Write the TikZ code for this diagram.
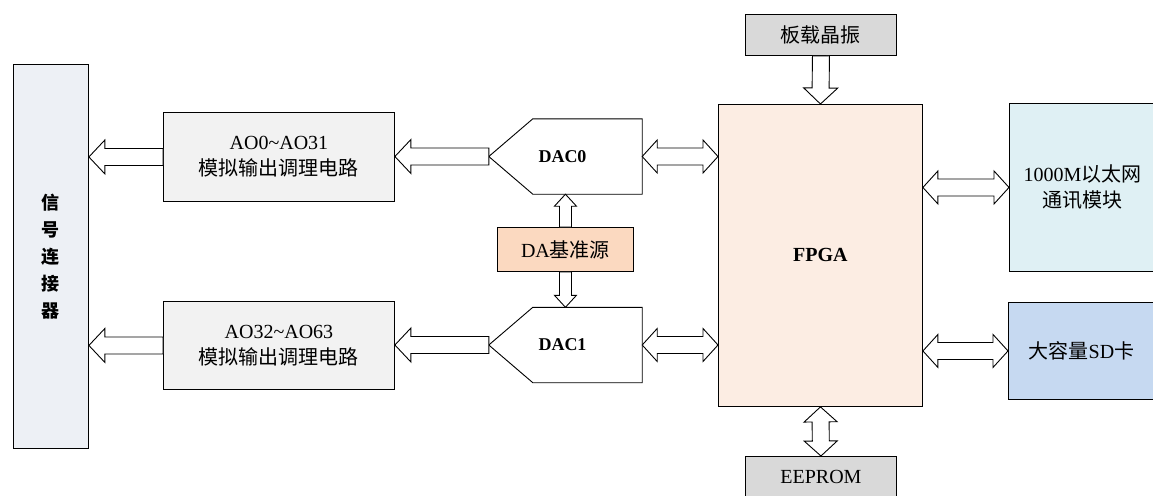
\documentclass[tikz,border=0pt]{standalone}
\usepackage{fontspec}
\setmainfont{Liberation Serif}
\newfontfamily\cjk{Noto Sans CJK SC}
\usetikzlibrary{calc}
\pgfdeclarelayer{background}
\pgfsetlayers{background,main}
\definecolor{connfill}{HTML}{EDF0F5}
\definecolor{aofill}{HTML}{F2F2F2}
\definecolor{reffill}{HTML}{FBD9C0}
\definecolor{fpgafill}{HTML}{FCEDE3}
\definecolor{chipfill}{HTML}{D9D9D9}
\definecolor{ethfill}{HTML}{DFF0F4}
\definecolor{sdfill}{HTML}{C6D9F1}
\begin{document}
\begin{tikzpicture}[x=1pt, y=-1pt, font=\fontsize{20}{26}\selectfont,
  box/.style={draw, line width=0.9pt, anchor=north west, inner sep=0pt, align=center},
  dac/.style={minimum width=153, minimum height=75, inner sep=0pt, font=\bfseries\fontsize{18}{22}\selectfont},
  shaftw/.code={\def\fw{#1}}, headw/.code={\def\fh{#1}}, headl/.code={\def\fl{#1}},
  barrow/.style={draw, fill=white, line width=0.9pt, line join=miter, shaftw=8.5pt, headw=17pt, headl=16pt,
    to path={-- ($(\tikztostart)!\fw!90:(\tikztotarget)$)
      -- ($($(\tikztotarget)!\fl!(\tikztostart)$)!\fw!90:(\tikztotarget)$)
      -- ($($(\tikztotarget)!\fl!(\tikztostart)$)!\fh!90:(\tikztotarget)$)
      -- (\tikztotarget)
      -- ($($(\tikztotarget)!\fl!(\tikztostart)$)!\fh!-90:(\tikztotarget)$)
      -- ($($(\tikztotarget)!\fl!(\tikztostart)$)!\fw!-90:(\tikztotarget)$)
      -- ($(\tikztostart)!\fw!-90:(\tikztotarget)$)
      -- cycle}},
  dbarrow/.style={draw, fill=white, line width=0.9pt, line join=miter, shaftw=8.5pt, headw=16.5pt, headl=15pt,
    to path={-- ($($(\tikztostart)!\fl!(\tikztotarget)$)!\fh!90:(\tikztotarget)$)
      -- ($($(\tikztostart)!\fl!(\tikztotarget)$)!\fw!90:(\tikztotarget)$)
      -- ($($(\tikztotarget)!\fl!(\tikztostart)$)!\fw!90:(\tikztotarget)$)
      -- ($($(\tikztotarget)!\fl!(\tikztostart)$)!\fh!90:(\tikztotarget)$)
      -- (\tikztotarget)
      -- ($($(\tikztotarget)!\fl!(\tikztostart)$)!\fh!-90:(\tikztotarget)$)
      -- ($($(\tikztotarget)!\fl!(\tikztostart)$)!\fw!-90:(\tikztotarget)$)
      -- ($($(\tikztostart)!\fl!(\tikztotarget)$)!\fw!-90:(\tikztotarget)$)
      -- ($($(\tikztostart)!\fl!(\tikztotarget)$)!\fh!-90:(\tikztotarget)$)
      -- cycle}}]
\useasboundingbox (0,0) rectangle (1153,495);
\clip (0,0) rectangle (1153,495);
\node[box, fill=connfill, minimum width=75, minimum height=384, font=\cjk\bfseries\fontsize{18}{27}\selectfont] (conn) at (13,64) {信\\号\\连\\接\\器};
\node[box, fill=aofill, minimum width=231, minimum height=89] (ao0) at (163,112) {AO0\textasciitilde AO31\\{\cjk 模拟输出调理电路}};
\node[box, fill=aofill, minimum width=231, minimum height=88] (ao1) at (163,301) {AO32\textasciitilde AO63\\{\cjk 模拟输出调理电路}};
\node[dac] (dac0) at (565.5,156.5) {\hspace*{-6pt}DAC0};
\node[dac] (dac1) at (565.5,345) {\hspace*{-6pt}DAC1};
\begin{pgfonlayer}{background}
\filldraw[fill=white, line width=0.9pt] (dac0.north east) -- (dac0.south east) -- ([xshift=44]dac0.south west) -- (dac0.west) -- ([xshift=44]dac0.north west) -- cycle;
\filldraw[fill=white, line width=0.9pt] (dac1.north east) -- (dac1.south east) -- ([xshift=44]dac1.south west) -- (dac1.west) -- ([xshift=44]dac1.north west) -- cycle;
\end{pgfonlayer}
\node[box, fill=reffill, minimum width=136, minimum height=44] (ref) at (497,227) {DA{\cjk 基准源}};
\node[box, fill=fpgafill, minimum width=204, minimum height=302, font=\bfseries\fontsize{20}{26}\selectfont] (fpga) at (718,104) {FPGA};
\node[box, fill=chipfill, minimum width=151, minimum height=41] (osc) at (745,14) {\cjk 板载晶振};
\node[box, fill=chipfill, minimum width=151, minimum height=42] (eeprom) at (745,456) {EEPROM};
\node[box, fill=ethfill, minimum width=146, minimum height=168] (eth) at (1009,103) {1000M{\cjk 以太网}\\{\cjk 通讯模块}};
\node[box, fill=sdfill, minimum width=146, minimum height=97] (sd) at (1008,302) {{\cjk 大容量}SD{\cjk 卡}};
\draw[barrow] (ao0.west) to (ao0.west -| conn.east);
\draw[barrow] (ao1.west) to (ao1.west -| conn.east);
\draw[barrow] (dac0.west) to (dac0.west -| ao0.east);
\draw[barrow] (dac1.west) to (dac1.west -| ao1.east);
\draw[barrow, shaftw=6pt, headw=11pt, headl=12pt] (ref.north) to (ref.north |- dac0.south);
\draw[barrow, shaftw=6pt, headw=11pt, headl=12pt] (ref.south) to (ref.south |- dac1.north);
\draw[dbarrow] (dac0.east) to (dac0.east -| fpga.west);
\draw[dbarrow] (dac1.east) to (dac1.east -| fpga.west);
\draw[barrow] (osc.south) to (fpga.north);
\draw[dbarrow] (fpga.south) to (eeprom.north);
\draw[dbarrow] (eth.west) to (eth.west -| fpga.east);
\draw[dbarrow] (sd.west) to (sd.west -| fpga.east);
\end{tikzpicture}
\end{document}
